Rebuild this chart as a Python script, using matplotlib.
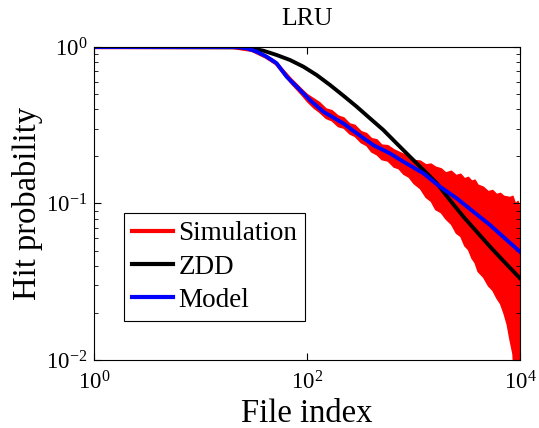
import matplotlib
matplotlib.use("Agg")
import matplotlib.pyplot as plt
from matplotlib.lines import Line2D

plt.rcParams['font.family'] = ['Liberation Serif', 'DejaVu Serif']
plt.rcParams['mathtext.fontset'] = 'custom'
plt.rcParams['mathtext.rm'] = 'Liberation Serif'
plt.rcParams['mathtext.it'] = 'Liberation Serif:italic'

# values
sim_x = [1, 20, 30, 40, 50, 60, 70, 80, 90, 100, 115, 130, 150, 170, 195, 220,
         250, 280, 320, 360, 400, 450, 500, 570, 650, 720, 800, 900, 1000, 1150,
         1300, 1450, 1600, 1800, 2000, 2250, 2500, 2750, 3000, 3250, 3500, 3750,
         4000, 4500, 5000, 5500, 6000, 6500, 7000, 7500, 8000, 8500, 9000, 9500,
         10000]
sim_upper = [1.0, 1.0, 0.965, 0.90, 0.82, 0.715, 0.635, 0.58, 0.535, 0.50, 0.47,
             0.445, 0.405, 0.395, 0.365, 0.355, 0.325, 0.318, 0.29, 0.282, 0.262,
             0.257, 0.238, 0.236, 0.222, 0.215, 0.208, 0.198, 0.19, 0.188, 0.178,
             0.18, 0.172, 0.168, 0.158, 0.162, 0.152, 0.155, 0.145, 0.148, 0.14,
             0.142, 0.132, 0.128, 0.12, 0.122, 0.115, 0.117, 0.112, 0.111, 0.11,
             0.112, 0.10, 0.104, 0.092]
sim_lower = [0.985, 0.985, 0.945, 0.86, 0.78, 0.67, 0.59, 0.535, 0.49, 0.45, 0.41,
             0.385, 0.352, 0.34, 0.312, 0.305, 0.28, 0.27, 0.246, 0.236, 0.215,
             0.206, 0.192, 0.188, 0.172, 0.168, 0.155, 0.148, 0.135, 0.125, 0.11,
             0.104, 0.092, 0.088, 0.08, 0.074, 0.065, 0.062, 0.054, 0.051, 0.045,
             0.042, 0.037, 0.034, 0.030, 0.028, 0.025, 0.023, 0.020, 0.017, 0.0134,
             0.011, 0.005, 0.005, 0.005]

zdd_x = [1, 27.1, 38.9, 51.9, 69.2, 92.4, 123.3, 164.4, 219.3, 292.6, 390.4, 520.8,
         694.9, 927, 1237, 1651, 2203, 2938, 3920, 5231, 7230, 10000]
zdd_y = [1.0, 0.995, 0.947, 0.889, 0.826, 0.749, 0.662, 0.572, 0.489, 0.416, 0.350,
         0.295, 0.242, 0.199, 0.164, 0.135, 0.105, 0.0824, 0.0661, 0.0530, 0.0419,
         0.0333]

model_x = [1, 21.9, 27.1, 33.7, 41.8, 51.9, 64.4, 80.0, 106.6, 142.3, 219, 293,
           419.6, 601, 803, 1237, 1774, 2543, 3645, 5231, 7497, 10000]
model_y = [1.0, 1.0, 0.981, 0.934, 0.867, 0.787, 0.646, 0.558, 0.458, 0.386, 0.325,
           0.281, 0.236, 0.209, 0.185, 0.156, 0.128, 0.108, 0.0887, 0.0729, 0.0585,
           0.0492]

x_ticks = [1, 100, 10000]
x_tick_labels = [r'$10^0$', r'$10^2$', r'$10^4$']
y_ticks = [0.01, 0.1, 1]
y_tick_labels = [r'$10^{-2}$', r'$10^{-1}$', r'$10^0$']

fig = plt.figure(figsize=(5.39, 4.28), dpi=100)
ax = fig.add_axes([0.1744, 0.1589, 0.7903, 0.7313])

ax.fill_between(sim_x, sim_lower, sim_upper, color='red', lw=1.0)
ax.plot(zdd_x, zdd_y, color='black', lw=2.8)
ax.plot(model_x, model_y, color='blue', lw=2.8)

ax.set_xscale('log')
ax.set_yscale('log')
ax.set_xlim(1, 10000)
ax.set_ylim(0.01, 1)
ax.set_xticks(x_ticks)
ax.set_xticklabels(x_tick_labels)
ax.xaxis.set_minor_locator(matplotlib.ticker.NullLocator())
ax.set_yticks(y_ticks)
ax.set_yticklabels(y_tick_labels)
ax.tick_params(which='both', direction='in', top=True, right=True, labelsize=16.5)
ax.tick_params(which='major', length=5, width=0.8)
ax.tick_params(which='minor', length=3, width=0.6)
ax.tick_params(axis='x', pad=8)
ax.tick_params(axis='y', pad=5)

ax.set_title('LRU', fontsize=18.5, pad=16)
ax.set_xlabel('File index', fontsize=23.5, labelpad=3)
ax.set_ylabel('Hit probability', fontsize=23.5, labelpad=2)

handles = [Line2D([], [], color='red', lw=3),
           Line2D([], [], color='black', lw=3),
           Line2D([], [], color='blue', lw=3)]
leg = ax.legend(handles, ['Simulation', 'ZDD', 'Model'], loc='lower left',
                bbox_to_anchor=(0.071, 0.125), fontsize=19.5, frameon=True,
                fancybox=False, framealpha=1, edgecolor='black',
                handlelength=1.5, handletextpad=0.2, labelspacing=0.3,
                borderpad=0.3, borderaxespad=0)
leg.get_frame().set_linewidth(0.8)

fig.savefig('out.png', dpi=100)
